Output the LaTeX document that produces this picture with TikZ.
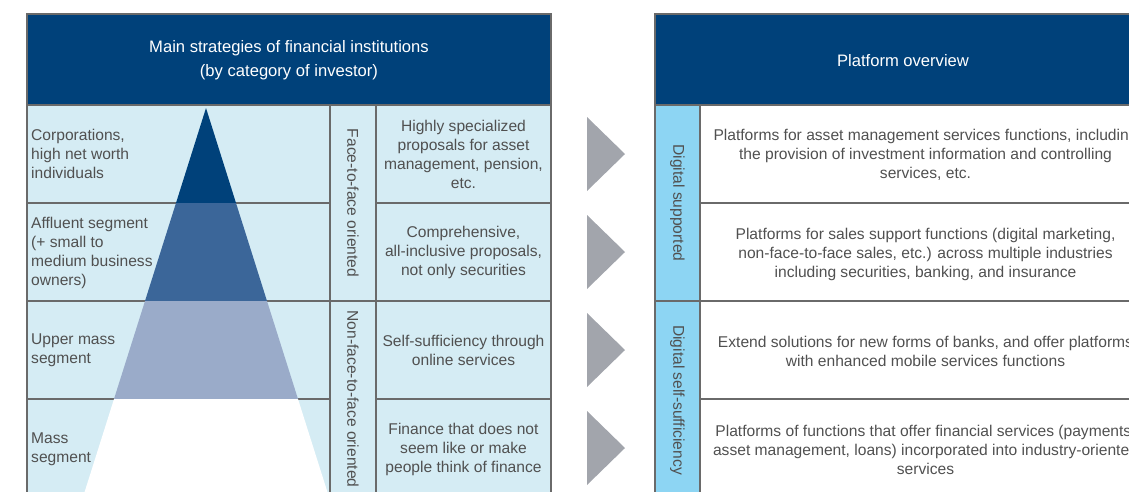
\documentclass[tikz,border=0pt]{standalone}
\usepackage{fontspec}
\setmainfont{Liberation Sans}
\definecolor{navy}{HTML}{00417A}
\definecolor{cellbg}{HTML}{D5ECF4}
\definecolor{sideblue}{HTML}{8DD5F3}
\definecolor{pyrA}{HTML}{00417A}
\definecolor{pyrB}{HTML}{3B6699}
\definecolor{pyrC}{HTML}{9AABC9}
\definecolor{arrowg}{HTML}{A2A5AC}
\definecolor{txt}{HTML}{505050}
\definecolor{lineg}{HTML}{6A6A6A}
\begin{document}
\begin{tikzpicture}[x=1pt,y=-1pt,
  body/.style={font=\fontsize{15.6}{19}\selectfont, text=txt, inner sep=0pt},
  lbl/.style={body, anchor=west, align=left},
  ctr/.style={body, align=center},
  vert/.style={body, rotate=-90},
  hdr/.style={font=\fontsize{16.6}{24}\selectfont, text=white, align=center, inner sep=0pt},
  gridline/.style={draw=lineg, line width=1.1pt},
  arrowtri/.style={fill=arrowg}]
\useasboundingbox (0,0) rectangle (1129,491);
\clip (0,0) rectangle (1129,491);
% ---------- left table ----------
\fill[cellbg] (27,105) rectangle (551,497);
\fill[navy] (27,14) rectangle (551,105);
\draw[gridline] (27,203) -- (330,203) (376,203) -- (551,203);
\draw[gridline] (27,301) -- (551,301);
\draw[gridline] (27,399) -- (330,399) (376,399) -- (551,399);
% pyramid
\fill[pyrA] (206,108) -- (236,203) -- (176,203) -- cycle;
\fill[pyrB] (176,203) -- (236,203) -- (267,301) -- (145,301) -- cycle;
\fill[pyrC] (145,301) -- (267,301) -- (298,399) -- (114,399) -- cycle;
\fill[white] (114,399) -- (298,399) -- (329,497) -- (83,497) -- cycle;
\draw[gridline] (330,105) -- (330,497) (376,105) -- (376,497);
\draw[gridline] (27,105) -- (551,105);
\draw[gridline] (27,14) rectangle (551,497);
\node[hdr] (lhead) at (289,60) {Main strategies of financial institutions\\(by category of investor)};
\node[lbl] (seg1) at (31,154) {Corporations,\\high net worth\\individuals};
\node[lbl] (seg2) at (31,252.5) {Affluent segment\\(+ small to\\medium business\\owners)};
\node[lbl] (seg3) at (31,350.5) {Upper mass\\segment};
\node[lbl] (seg4) at (31,449.5) {Mass\\segment};
\node[vert] (face) at (353,203) {Face-to-face oriented};
\node[vert] (nonface) at (353,399) {Non-face-to-face oriented};
\node[ctr] (prop1) at (463.5,154.5) {Highly specialized\\proposals for asset\\management, pension,\\etc.};
\node[ctr] (prop2) at (463.5,252.5) {Comprehensive,\\all-inclusive proposals,\\not only securities};
\node[ctr] (prop3) at (463.5,350.5) {Self-sufficiency through\\online services};
\node[ctr] (prop4) at (463.5,449.5) {Finance that does not\\seem like or make\\people think of finance};
% ---------- arrows ----------
\fill[arrowtri] (587,117) -- (625,154) -- (587,191) -- cycle;
\fill[arrowtri] (587,215) -- (625,252) -- (587,289) -- cycle;
\fill[arrowtri] (587,313) -- (625,350) -- (587,387) -- cycle;
\fill[arrowtri] (587,411) -- (625,448) -- (587,485) -- cycle;
% ---------- right table ----------
\fill[navy] (655,14) rectangle (1151,105);
\fill[sideblue] (655,105) rectangle (700,497);
\draw[gridline] (700,203) -- (1151,203);
\draw[gridline] (655,301) -- (1151,301);
\draw[gridline] (700,399) -- (1151,399);
\draw[gridline] (700,105) -- (700,497);
\draw[gridline] (655,105) -- (1151,105);
\draw[gridline] (655,14) rectangle (1151,497);
\node[hdr] (rhead) at (903,61) {Platform overview};
\node[vert] (dsup) at (677.5,203) {Digital supported};
\node[vert] (dself) at (677.5,400) {Digital self-sufficiency};
\node[ctr] (plat1) at (925.5,155) {Platforms for asset management services functions, including\\the provision of investment information and controlling\\services, etc.};
\node[ctr] (plat2) at (925.5,254) {Platforms for sales support functions (digital marketing,\\non-face-to-face sales, etc.) across multiple industries\\including securities, banking, and insurance};
\node[ctr] (plat3) at (925.5,351.5) {Extend solutions for new forms of banks, and offer platforms\\with enhanced mobile services functions};
\node[ctr] (plat4) at (925.5,450) {Platforms of functions that offer financial services (payments,\\asset management, loans) incorporated into industry-oriented\\services};
\end{tikzpicture}
\end{document}
